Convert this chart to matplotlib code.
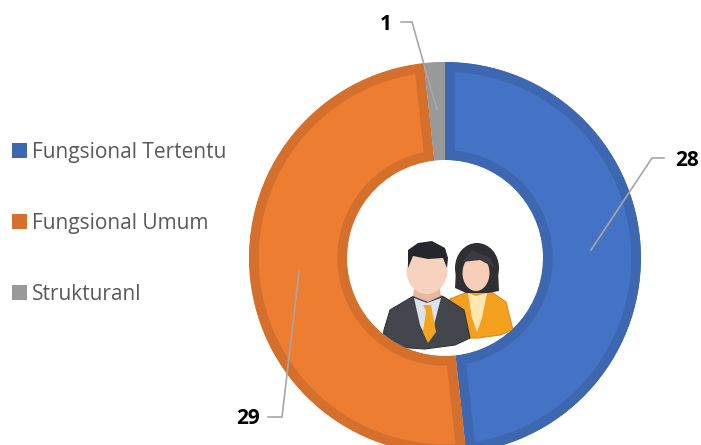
import matplotlib
matplotlib.use("Agg")
import matplotlib.pyplot as plt
from matplotlib.patches import Patch, Ellipse, Polygon, Circle

categories = ["Fungsional Tertentu", "Fungsional Umum", "Strukturanl"]
values = [28, 29, 1]
fills = ["#4472C4", "#ED7D31", "#999999"]
edges = ["#3D67B0", "#D5702C", "#999999"]

W, H = 701, 445
CX, CY, R = 445, 258, 196
fig = plt.figure(figsize=(W / 100, H / 100), dpi=100, facecolor="white")
plt.rcParams["font.family"] = ["Open Sans", "DejaVu Sans"]

ax = fig.add_axes([(CX - R) / W, (H - CY - R) / H, 2 * R / W, 2 * R / H])
wedges, _ = ax.pie(values, colors=fills, startangle=90, counterclock=False, radius=1,
                   wedgeprops=dict(width=0.5, linewidth=14))
ax.set_xlim(-1, 1)
ax.set_ylim(-1, 1)
ax.set_aspect("equal")
for w, e in zip(wedges, edges):
    w.set_edgecolor(e)
    w.set_joinstyle("miter")
    w.set_clip_on(True)
    w.set_clip_path(w)

# overlay in pixel coordinates
ov = fig.add_axes([0, 0, 1, 1], facecolor="none")
ov.set_xlim(0, W)
ov.set_ylim(H, 0)
ov.axis("off")

# leader lines and value labels
leaders = [([401, 412, 437], [22, 22, 110]),
           ([664, 652, 591], [158, 158, 250]),
           ([268, 282, 299], [417, 417, 272])]
label_pos = [(386, 25, "center"), (675, 160, "left"), (248, 419, "center")]
order = [2, 0, 1]
for (lx, ly), (tx, ty, ha), i in zip(leaders, label_pos, order):
    ov.plot(lx, ly, color="#A6A6A6", lw=1.2, solid_joinstyle="miter")
    ov.text(tx, ty, str(values[i]), ha=ha, va="center", fontsize=15,
            fontweight="bold", color="black")

# legend
handles = [Patch(facecolor=e, edgecolor="none") for e in edges]
leg = fig.legend(handles, categories, loc="center left", frameon=False, fontsize=15,
                 labelcolor="#595959", borderpad=0, borderaxespad=0,
                 handlelength=0.72, handleheight=0.7, handletextpad=0.25, labelspacing=2.4)
leg.set_bbox_to_anchor((12 / W, 1 - 223.5 / H), transform=fig.transFigure)

# people icon, clipped by the hole of the ring
hole = Circle((CX, CY), 98, transform=ov.transData, facecolor="none", edgecolor="none")
ov.add_patch(hole)


def add(p):
    ov.add_patch(p)
    p.set_clip_path(hole)
    return p


# woman
add(Polygon([(450, 299), (470, 291), (490, 291), (506, 302), (513, 330), (500, 335),
             (478, 338), (462, 338), (450, 320)], closed=True, fc="#F2A01E", ec="#E08A1A", lw=0.8))
add(Polygon([(468, 293), (476, 296), (487, 293), (482, 318), (477, 332), (472, 318)],
            closed=True, fc="#FCE7B0", ec="none"))
add(Ellipse((477, 268), 44, 50, fc="#2E2E33", ec="none"))
add(Polygon([(456, 270), (498, 270), (499, 291), (488, 293), (466, 293), (455, 288)],
            closed=True, fc="#2E2E33", ec="none"))
add(Ellipse((476, 273), 27, 36, fc="#F5CDB8", ec="none"))
add(Polygon([(462, 262), (472, 250), (490, 258), (495, 268), (480, 260)], closed=True,
            fc="#3A3A40", ec="none"))
# man
add(Polygon([(384, 330), (390, 310), (412, 297), (427, 291), (444, 297), (464, 310),
             (470, 338), (455, 345), (425, 349), (395, 347), (383, 338)],
            closed=True, fc="#43464D", ec="#33353B", lw=0.8))
add(Polygon([(414, 298), (427, 303), (441, 298), (434, 325), (427, 340), (420, 325)],
            closed=True, fc="#DCE3EE", ec="none"))
add(Polygon([(423, 305), (431, 305), (432, 310), (436, 332), (428, 343), (423, 332), (426, 311)],
            closed=True, fc="#F4A51F", ec="none"))
add(Polygon([(415, 284), (439, 284), (441, 296), (428, 302), (413, 296)], closed=True,
            fc="#E9B79F", ec="none"))
add(Ellipse((427, 271), 41, 46, fc="#F6D2BF", ec="none"))
add(Polygon([(408, 268), (408, 250), (418, 243), (432, 241), (445, 248), (448, 258),
             (447, 268), (443, 258), (428, 259), (413, 256)], closed=True, fc="#26272C", ec="none"))

fig.savefig("out.png", dpi=100, facecolor="white")
